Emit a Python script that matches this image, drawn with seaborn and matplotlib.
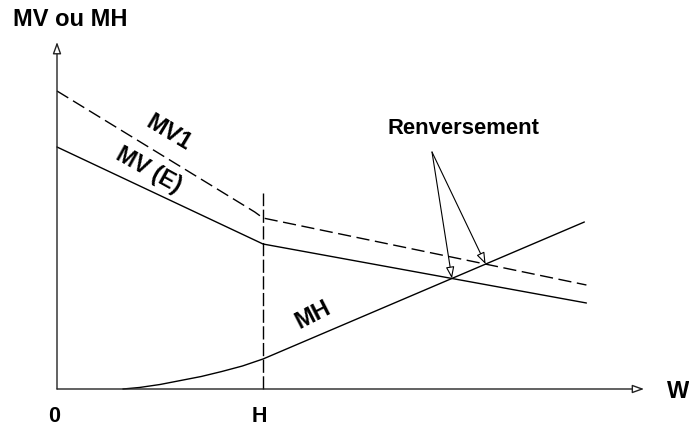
import numpy as np
import pandas as pd
import matplotlib
matplotlib.use("Agg")
import matplotlib.pyplot as plt
import seaborn as sns

# --- data -------------------------------------------------------------
H = 10.0

w_mv1 = [0.0, 9.6, 10.0, 25.7]
mv1 = [29.8, 17.7, 17.1, 10.4]

w_mve = [0.0, 10.0, 25.7]
mve = [24.2, 14.5, 8.6]

w_mh = [3.2, 4.0, 5.0, 6.0, 7.0, 8.0, 9.0, 10.0, 25.6]
mh = [0.0, 0.15, 0.45, 0.85, 1.25, 1.75, 2.3, 3.0, 16.7]

h_line_top = 19.6
x_axis_end = 28.5
y_axis_end = 34.7

# --- figure -----------------------------------------------------------
sns.set_style("white")
plt.rcParams["font.family"] = ["Liberation Sans", "DejaVu Sans"]

fig = plt.figure(figsize=(6.89, 4.30), dpi=100)
ax = fig.add_axes([0, 0, 1, 1])
# 20.6 px per W unit, 10 px per moment unit, origin at pixel (57, 389)
ax.set_xlim(-57 / 20.6, 632 / 20.6)
ax.set_ylim(-41 / 10, 389 / 10)
ax.axis("off")

ink = "black"
lw = 1.0

sns.lineplot(x=w_mv1, y=mv1, ax=ax, color=ink, lw=lw, sort=False,
             linestyle=(0, (9.5, 4)))
sns.lineplot(x=w_mve, y=mve, ax=ax, color=ink, lw=lw, sort=False)
sns.lineplot(x=w_mh, y=mh, ax=ax, color=ink, lw=lw, sort=False)

# vertical dashed line at H
ax.plot([H, H], [0, h_line_top], color=ink, lw=lw, linestyle=(0, (9.5, 2.5)))

# axes with open arrowheads
axis_arrow = dict(arrowstyle="-|>,head_length=0.5,head_width=0.18",
                  mutation_scale=14, color="#222222", lw=1.0, fc="white",
                  shrinkA=0, shrinkB=0)
ax.annotate("", xy=(x_axis_end, 0), xytext=(0, 0), arrowprops=axis_arrow)
ax.annotate("", xy=(0, y_axis_end), xytext=(0, 0), arrowprops=axis_arrow)

# crossing points of MH with MV(E) and MV1
def crossing(wa, ya, wb, yb):
    grid = np.linspace(H, min(wa[-1], wb[-1]), 4000)
    d = np.interp(grid, wa, ya) - np.interp(grid, wb, yb)
    i = np.argmin(np.abs(d))
    return grid[i], np.interp(grid[i], wa, ya)

p1 = crossing(w_mve, mve, w_mh, mh)
p2 = crossing(w_mv1, mv1, w_mh, mh)

src = ((432 - 57) / 20.6, (389 - 152) / 10)
arr = dict(arrowstyle="-|>,head_length=0.5,head_width=0.18",
           mutation_scale=14, color=ink, lw=0.8, fc="white",
           shrinkA=0, shrinkB=0)
ax.annotate("", xy=p1, xytext=src, arrowprops=arr)
ax.annotate("", xy=p2, xytext=src, arrowprops=arr)

def px(x, y):
    return ((x - 57) / 20.6, (389 - y) / 10)

bold = dict(fontweight="bold", color=ink)
ax.text(*px(70, 20), "MV ou MH", ha="center", va="center", fontsize=17, **bold)
ax.text(*px(54, 417), "0", ha="center", va="center", fontsize=15.5, **bold)
ax.text(*px(259, 417), "H", ha="center", va="center", fontsize=15.5, **bold)
ax.text(*px(667, 392), "W", ha="left", va="center", fontsize=17, **bold)
ax.text(*px(463, 129), "Renversement", ha="center", va="center", fontsize=15.8, **bold)
ax.text(*px(169, 133), "MV1", ha="center", va="center", fontsize=17,
        rotation=-31, rotation_mode="anchor", **bold)
ax.text(*px(149, 170), "MV (E)", ha="center", va="center", fontsize=16.5,
        rotation=-29, rotation_mode="anchor", **bold)
ax.text(*px(313, 315), "MH", ha="center", va="center", fontsize=17,
        rotation=27, rotation_mode="anchor", **bold)

fig.savefig("out.png", dpi=100, facecolor="white")
